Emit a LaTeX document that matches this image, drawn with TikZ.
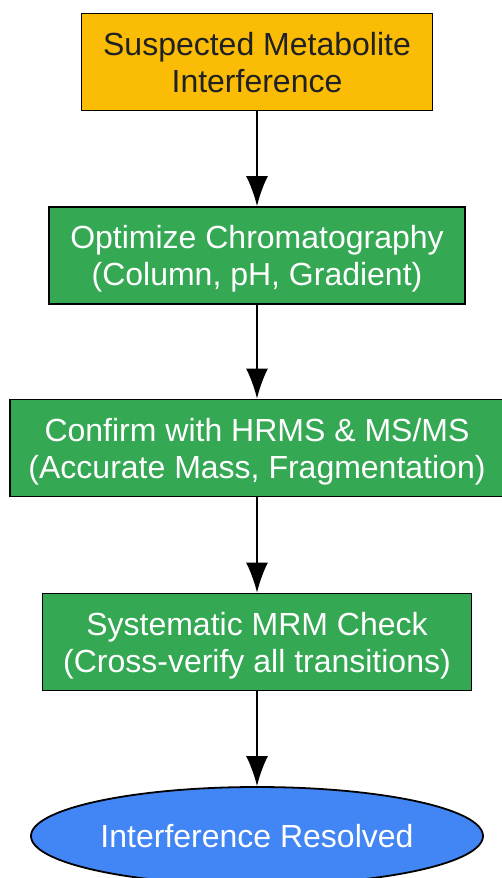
\documentclass[tikz,border=0pt]{standalone}
\usepackage{fontspec}
\setmainfont{Liberation Sans}
\usetikzlibrary{arrows.meta,shapes.geometric}
\definecolor{suspectorange}{HTML}{FBBC05}
\definecolor{checkgreen}{HTML}{34A853}
\definecolor{resolvedblue}{HTML}{4285F4}
\definecolor{darktext}{HTML}{202124}
% two text lines with fixed top and bottom
\newcommand{\boxlines}[2]{\rule{0pt}{30.4pt}#1\\#2\rule[-7pt]{0pt}{7pt}}
\begin{document}
\begin{tikzpicture}[x=1pt, y=1pt,
		stepbox/.style={draw=black, line width=1.8pt, minimum height=97pt, inner sep=0pt,
			align=center, font=\fontsize{32}{37}\selectfont},
		greenbox/.style={stepbox, fill=checkgreen, text=white},
		endoval/.style={ellipse, draw=black, line width=1.8pt, fill=resolvedblue, text=white,
			minimum width=452pt, minimum height=98pt, inner sep=0pt, font=\fontsize{32}{37}\selectfont},
		flow/.style={line width=1.8pt, -{Latex[length=30pt, width=22pt]}}]
			\useasboundingbox (0,0) rectangle (502,-878);
			
			\node[stepbox, fill=suspectorange, text=darktext, minimum width=351pt] (suspect) at (257,-62)
				{\boxlines{Suspected Metabolite}{Interference}};
			\node[greenbox, minimum width=416pt] (chroma) at (257,-255.5)
				{\boxlines{Optimize Chromatography}{(Column, pH, Gradient)}};
			\node[greenbox, minimum width=494pt] (hrms) at (257,-448)
				{\boxlines{Confirm with HRMS \& MS/MS}{(Accurate Mass, Fragmentation)}};
			\node[greenbox, minimum width=429pt] (mrm) at (257,-642)
				{\boxlines{Systematic MRM Check}{(Cross-verify all transitions)}};
			\node[endoval] (resolved) at (257,-836) {Interference Resolved};
			
			\draw[flow] (suspect) -- (chroma);
			\draw[flow] (chroma) -- (hrms);
			\draw[flow] (hrms) -- (mrm);
			\draw[flow] (mrm) -- (resolved);
		\end{tikzpicture}
\end{document}
